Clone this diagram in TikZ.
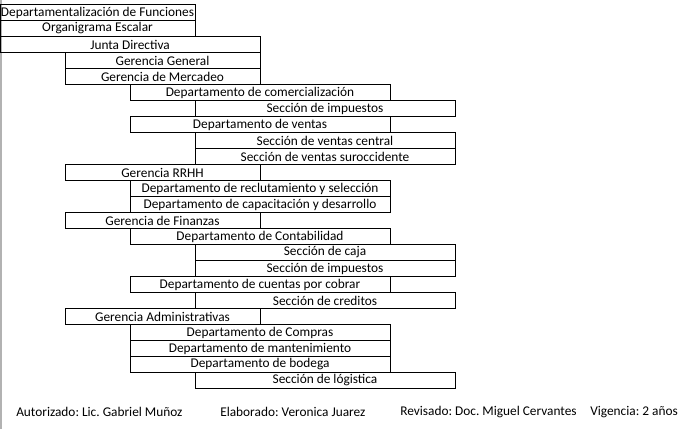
\documentclass[tikz,border=0pt]{standalone}
\usepackage{fontspec}
\setmainfont{Carlito}
\usepackage{tikz}
\frenchspacing

\begin{document}
\begin{tikzpicture}[x=0.75pt, y=-0.75pt, every node/.style={font=\fontsize{10}{12}\selectfont},
  celda3/.style={draw, line width=0.75pt, inner sep=0pt, minimum width=146.25pt, minimum height=12pt},
  celda4/.style={draw, line width=0.75pt, inner sep=0pt, minimum width=195pt, minimum height=12pt},
  pie/.style={anchor=west, inner sep=0pt}]
  \useasboundingbox (0,0) rectangle (684,429);

  % window edge
  \draw[gray!60, line width=1.2pt] (1,0) -- (1,429);

  % header
  \node[celda3] (depfun) at (97.5,12.5) {\makebox[146.25pt]{Departamentalización de Funciones}};
  \node[celda3] (organi) at (97.5,28.5) {Organigrama Escalar};
  \node[celda4] (junta) at (130,44.5) {Junta Directiva};
  \node[celda3] (gergen) at (162.5,60.5) {Gerencia General};

  % mercadeo
  \node[celda3] (germer) at (162.5,76.5) {Gerencia de Mercadeo};
  \node[celda4] (depcom) at (260,92.5) {Departamento de comercialización};
  \node[celda4] (secimp) at (325,108.5) {Sección de impuestos};
  \node[celda4] (depven) at (260,124.5) {Departamento de ventas};
  \node[celda4] (seccen) at (325,140.5) {Sección de ventas central};
  \node[celda4] (secsur) at (325,156.5) {Sección de ventas suroccidente};

  % rrhh
  \node[celda3] (gerrh) at (162.5,172.5) {Gerencia RRHH};
  \node[celda4] (deprec) at (260,188.5) {Departamento de reclutamiento y selección};
  \node[celda4] (depcap) at (260,204.5) {Departamento de capacitación y desarrollo};

  % finanzas
  \node[celda3] (gerfin) at (162.5,220.5) {Gerencia de Finanzas};
  \node[celda4] (depcon) at (260,236.5) {Departamento de Contabilidad};
  \node[celda4] (seccaj) at (325,252.5) {Sección de caja};
  \node[celda4] (secimpf) at (325,268.5) {Sección de impuestos};
  \node[celda4] (depcue) at (260,284.5) {Departamento de cuentas por cobrar};
  \node[celda4] (seccre) at (325,300.5) {Sección de creditos};

  % administracion
  \node[celda3] (geradm) at (162.5,316.5) {Gerencia Administrativas};
  \node[celda4] (depcpr) at (260,332.5) {Departamento de Compras};
  \node[celda4] (depman) at (260,348.5) {Departamento de mantenimiento};
  \node[celda4] (depbod) at (260,364.5) {Departamento de bodega};
  \node[celda4] (seclog) at (325,380.5) {Sección de lógistica};

  % footer
  \node[pie] (autor) at (16,412) {Autorizado: Lic. Gabriel Muñoz};
  \node[pie] (elab) at (220,412) {Elaborado: Veronica Juarez};
  \node[pie] (revis) at (400,412) {Revisado: Doc. Miguel Cervantes};
  \node[pie] (vigen) at (590,412) {Vigencia: 2 años};
\end{tikzpicture}
\end{document}
